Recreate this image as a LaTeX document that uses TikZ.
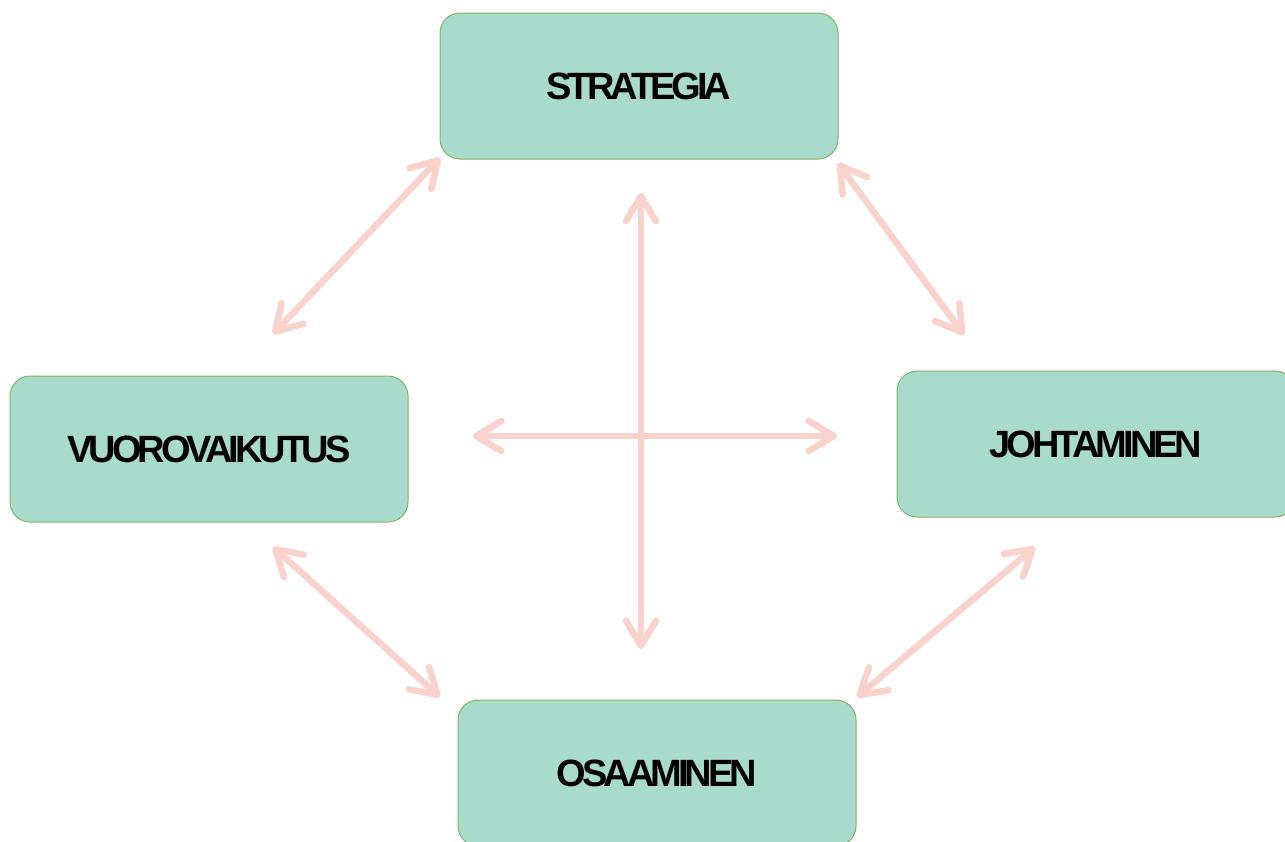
\documentclass[tikz,border=0pt]{standalone}
\usepackage{fontspec}
\setmainfont{Liberation Sans}
\usetikzlibrary{arrows.meta}
\definecolor{boxfill}{HTML}{A8DBCB}
\definecolor{boxline}{HTML}{82B366}
\definecolor{arrowc}{HTML}{F9D3CB}
\begin{document}
\begin{tikzpicture}[x=1pt,y=-1pt,
  topic/.style={draw=boxline, line width=1pt, fill=boxfill, rounded corners=20pt,
    minimum width=398pt, minimum height=146pt, inner sep=0pt,
    font=\fontsize{38}{40}\selectfont\bfseries\addfontfeature{LetterSpace=-10.5}},
  link/.style={draw=arrowc, line width=6.5pt,
    {Straight Barb[length=25pt,width=30pt,round]}-{Straight Barb[length=25pt,width=30pt,round]}}
]
\useasboundingbox (0,0) rectangle (1285,841);
\node[topic] (strategia) at (639,86) {STRATEGIA};
\node[topic] (vuoro) at (209,449) {VUOROVAIKUTUS};
\node[topic] (johto) at (1096,444) {JOHTAMINEN};
\node[topic] (osaa) at (657,773) {OSAAMINEN};
% arrow end points
\coordinate (a1) at (440,158);
\coordinate (a2) at (273,334);
\coordinate (b1) at (838,163);
\coordinate (b2) at (964,335);
\coordinate (c1) at (273,547);
\coordinate (c2) at (440,697);
\coordinate (d1) at (1035,547);
\coordinate (d2) at (857,697);
\coordinate (h1) at (473,436);
\coordinate (h2) at (837,436);
\coordinate (v1) at (641,193);
\coordinate (v2) at (641,649);
\draw[link] (a1) -- (a2);
\draw[link] (b1) -- (b2);
\draw[link] (c1) -- (c2);
\draw[link] (d1) -- (d2);
\draw[link] (h1) -- (h2);
\draw[link] (v1) -- (v2);
\end{tikzpicture}
\end{document}
